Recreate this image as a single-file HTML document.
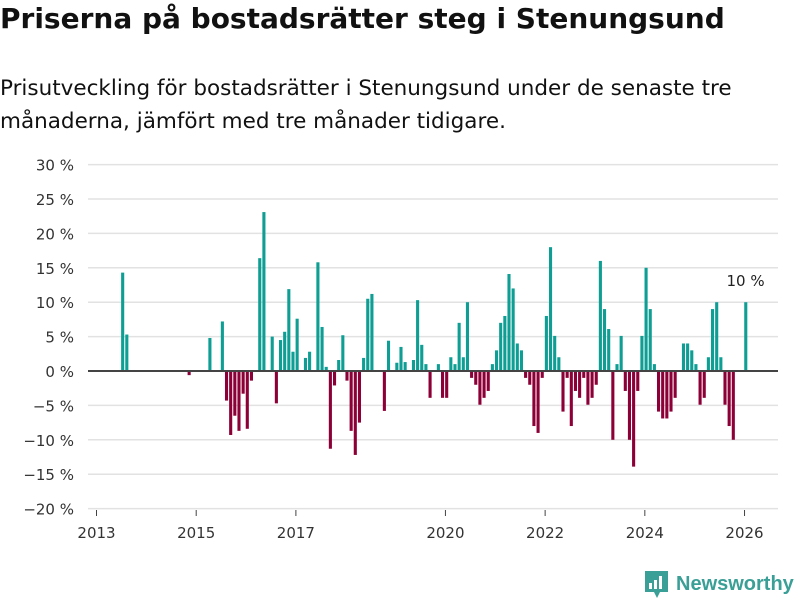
<!DOCTYPE html>
<html><head><meta charset="utf-8">
<style>
body{margin:0;width:800px;height:600px;background:#fff;font-family:"DejaVu Sans","Liberation Sans",sans-serif;color:#111;overflow:hidden;position:relative}
h1{position:absolute;left:0;top:2px;margin:0;font-size:28px;font-weight:bold;letter-spacing:0px}
p{position:absolute;left:0;top:72px;margin:0;font-size:21.5px;line-height:33px;width:795px}
svg{position:absolute;left:0;top:0}
</style></head><body>
<h1>Priserna på bostadsrätter steg i Stenungsund</h1>
<p>Prisutveckling för bostadsrätter i Stenungsund under de senaste tre månaderna, jämfört med tre månader tidigare.</p>
<svg id="chart" width="800" height="600"></svg>
<script>
// month index since 2013-01
const monthIndex=[6,7,22,27,30,31,32,33,34,35,36,37,39,40,42,43,44,45,46,47,48,50,51,53,54,55,56,57,58,59,60,61,62,63,64,65,66,69,70,72,73,74,76,77,78,79,80,82,83,84,85,86,87,88,89,90,91,92,93,94,95,96,97,98,99,100,101,102,103,104,105,106,107,108,109,110,111,112,113,114,115,116,117,118,119,120,121,122,123,124,125,126,127,128,129,130,131,132,133,134,135,136,137,138,139,141,142,143,144,145,146,147,148,149,150,151,152,153,156];
const changeValues=[14.3,5.3,-0.6,4.8,7.2,-4.3,-9.3,-6.5,-8.7,-3.3,-8.4,-1.4,16.4,23.1,5.0,-4.7,4.5,5.7,11.9,2.8,7.6,1.9,2.8,15.8,6.4,0.6,-11.3,-2.1,1.6,5.2,-1.4,-8.7,-12.2,-7.5,1.9,10.5,11.2,-5.8,4.4,1.2,3.5,1.3,1.6,10.3,3.8,1.0,-3.9,1.0,-3.9,-3.9,2.0,1.0,7.0,2.0,10.0,-1.0,-2.0,-4.9,-3.9,-2.9,1.0,3.0,7.0,8.0,14.1,12.0,4.0,3.0,-1.0,-2.0,-8.0,-9.0,-1.0,8.0,18.0,5.1,2.0,-5.9,-1.0,-8.0,-2.9,-3.9,-1.0,-4.9,-3.9,-2.0,16.0,9.0,6.1,-10.0,1.0,5.1,-2.9,-10.0,-13.9,-2.9,5.1,15.0,9.0,1.0,-5.9,-6.9,-6.9,-5.9,-3.9,4.0,4.0,3.0,1.0,-4.9,-3.9,2.0,9.0,10.0,2.0,-4.9,-8.0,-10.0,10.0];
const yTicks=[30,25,20,15,10,5,0,-5,-10,-15,-20];
const xTickYears=[2013,2015,2017,2020,2022,2024,2026];
const lastLabel="10 %";

const NS="http://www.w3.org/2000/svg";
const svg=document.getElementById('chart');
const y=v=>371-v*6.88;
const xm=m=>96+m*4.154;
const xy=yr=>xm((yr-2013)*12)+0.5;
function mk(tag,attrs,parent){const e=document.createElementNS(NS,tag);for(const k in attrs)e.setAttribute(k,attrs[k]);(parent||svg).appendChild(e);return e;}
yTicks.forEach(t=>{
  if(t!==0){const g=mk('line',{x1:88,x2:778,y1:y(t),y2:y(t),stroke:'#e2e2e2','stroke-width':1.5});
  
  }
  const l=mk('text',{x:74,y:y(t)+6,'text-anchor':'end','font-size':15,fill:'#333'});
  l.textContent=(t<0?'−'+(-t):t)+' %';
  
  
});
monthIndex.forEach((m,i)=>{
  const v=changeValues[i];
  const r=mk('rect',{x:xm(m)+0.2,width:3.1,y:Math.min(y(v),y(0)),height:Math.abs(y(v)-y(0)),fill:v>=0?'#0e9e94':'#8c0037'});
  
  
});
const z=mk('line',{x1:88,x2:778,y1:y(0),y2:y(0),stroke:'#444','stroke-width':2});


xTickYears.forEach(yr=>{
  const tk=mk('line',{x1:xy(yr),x2:xy(yr),y1:510,y2:516,stroke:'#444','stroke-width':1});
  
  
  const t=mk('text',{x:xy(yr),y:538,'text-anchor':'middle','font-size':15,fill:'#333'});
  t.textContent=yr;
  
  
});
const lm=monthIndex[monthIndex.length-1];
const ll=mk('text',{x:xm(lm)+1.5,y:286,'text-anchor':'middle','font-size':15,fill:'#222'});
ll.textContent=lastLabel;


// logo
const lg=mk('g',{});


mk('path',{d:'M645 571 h23 v21 h-8 l-3 6 l-3 -6 h-9 z',fill:'#3a9f96'},lg);
mk('rect',{x:649,y:583,width:3,height:6,fill:'#fff'},lg);
mk('rect',{x:654,y:580,width:3,height:9,fill:'#fff'},lg);
mk('rect',{x:659,y:576,width:3,height:13,fill:'#fff'},lg);
const lt=mk('text',{x:676,y:590,'font-size':20,fill:'#3a9f96','font-weight':'bold','font-family':'Liberation Sans, sans-serif'},lg);
lt.textContent='Newsworthy';
</script>
</body></html>
